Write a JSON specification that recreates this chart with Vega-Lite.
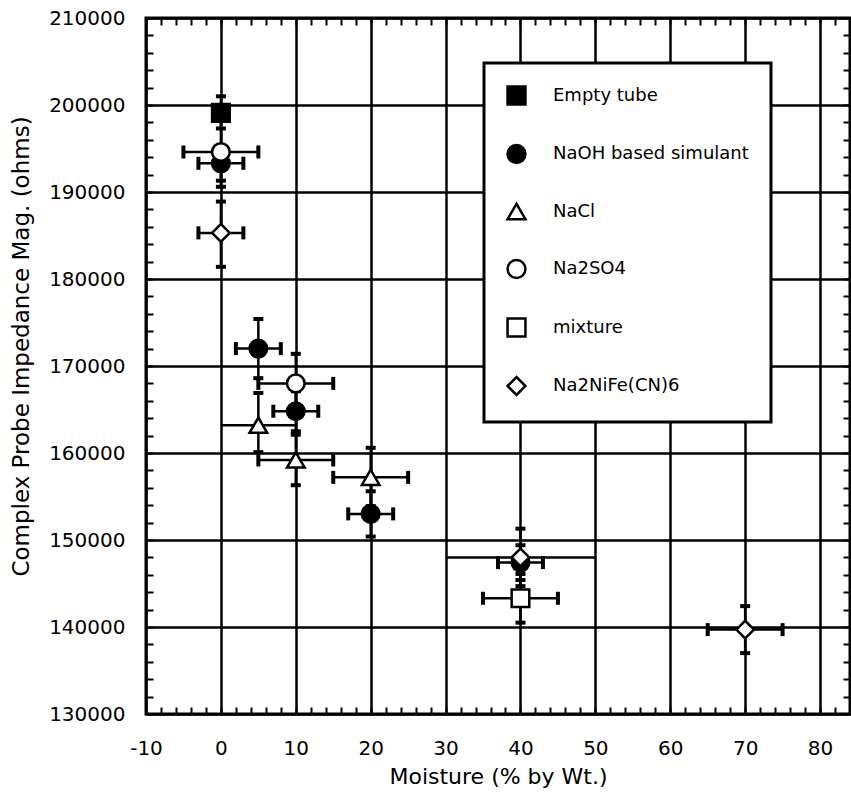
{
  "$schema": "https://vega.github.io/schema/vega-lite/v6.json",
  "width": 704,
  "height": 696,
  "autosize": {"type": "none"},
  "padding": {"left": 146, "top": 18, "right": 1, "bottom": 88},
  "background": "white",
  "config": {
    "view": {"stroke": "black", "strokeWidth": 3},
    "font": "DejaVu Sans",
    "legend": {"strokeWidth": 3}
  },
  "datasets": {
    "pts": [
      {"series": "Empty tube", "x": 0, "y": 199100, "ylo": 197300, "yhi": 201000, "xlo": null, "xhi": null},
      {"series": "NaOH based simulant", "x": 0, "y": 193300, "ylo": 191300, "yhi": 195300, "xlo": -3, "xhi": 3},
      {"series": "Na2SO4", "x": 0, "y": 194600, "ylo": 190600, "yhi": 198600, "xlo": -5, "xhi": 5},
      {"series": "Na2NiFe(CN)6", "x": 0, "y": 185300, "ylo": 181400, "yhi": 188900, "xlo": -3, "xhi": 3},
      {"series": "NaOH based simulant", "x": 5, "y": 172000, "ylo": 168600, "yhi": 175400, "xlo": 2, "xhi": 8},
      {"series": "Na2SO4", "x": 10, "y": 168000, "ylo": 164600, "yhi": 171400, "xlo": 5, "xhi": 15},
      {"series": "NaOH based simulant", "x": 10, "y": 164800, "ylo": 162500, "yhi": 167100, "xlo": 7, "xhi": 13},
      {"series": "NaCl", "x": 5, "y": 163200, "ylo": 160100, "yhi": 166900, "xlo": null, "xhi": null},
      {"series": "NaCl", "x": 10, "y": 159200, "ylo": 156300, "yhi": 162100, "xlo": 5, "xhi": 15},
      {"series": "NaCl", "x": 20, "y": 157200, "ylo": 153900, "yhi": 160600, "xlo": 15, "xhi": 25},
      {"series": "NaOH based simulant", "x": 20, "y": 153000, "ylo": 150400, "yhi": 155600, "xlo": 17, "xhi": 23},
      {"series": "NaOH based simulant", "x": 40, "y": 147400, "ylo": 145400, "yhi": 149400, "xlo": 37, "xhi": 43},
      {"series": "Na2NiFe(CN)6", "x": 40, "y": 148000, "ylo": 144700, "yhi": 151300, "xlo": null, "xhi": null},
      {"series": "mixture", "x": 40, "y": 143300, "ylo": 140500, "yhi": 146100, "xlo": 35, "xhi": 45},
      {"series": "Na2NiFe(CN)6", "x": 70, "y": 139700, "ylo": 137000, "yhi": 142400, "xlo": 65, "xhi": 75}
    ],
    "plainbars": [
      {"y": 163200, "xlo": 0, "xhi": 10},
      {"y": 148000, "xlo": 30, "xhi": 50}
    ]
  },
  "resolve": {"axis": {"x": "independent", "y": "independent"}},
  "layer": [
    {
      "data": {"name": "pts"},
      "mark": {"type": "rule", "color": "black", "strokeWidth": 2.5},
      "encoding": {
        "x": {"field": "x", "type": "quantitative",
          "scale": {"domain": [-10, 84], "nice": false, "zero": false},
          "axis": {"orient": "top", "labels": false, "title": null, "grid": false, "domain": false,
            "values": [-10,-8,-6,-4,-2,0,2,4,6,8,10,12,14,16,18,20,22,24,26,28,30,32,34,36,38,40,42,44,46,48,50,52,54,56,58,60,62,64,66,68,70,72,74,76,78,80,82,84],
            "tickSize": -7, "tickWidth": 2, "tickColor": "black"}},
        "y": {"field": "ylo", "type": "quantitative",
          "scale": {"domain": [130000, 210000], "nice": false, "zero": false},
          "axis": {"orient": "right", "labels": false, "title": null, "grid": false, "domain": false,
            "values": [130000,132000,134000,136000,138000,140000,142000,144000,146000,148000,150000,152000,154000,156000,158000,160000,162000,164000,166000,168000,170000,172000,174000,176000,178000,180000,182000,184000,186000,188000,190000,192000,194000,196000,198000,200000,202000,204000,206000,208000,210000],
            "tickSize": -7, "tickWidth": 2, "tickColor": "black"}},
        "y2": {"field": "yhi"}
      }
    },
    {
      "data": {"name": "pts"},
      "mark": {"type": "rule", "color": "black", "strokeWidth": 2.5},
      "encoding": {
        "x": {"field": "xlo", "type": "quantitative", "axis": null},
        "x2": {"field": "xhi"},
        "y": {"field": "y", "type": "quantitative", "axis": null}
      }
    },
    {
      "data": {"name": "plainbars"},
      "mark": {"type": "rule", "color": "black", "strokeWidth": 2.5},
      "encoding": {
        "x": {"field": "xlo", "type": "quantitative", "axis": null},
        "x2": {"field": "xhi"},
        "y": {"field": "y", "type": "quantitative", "axis": null}
      }
    },
    {
      "data": {"name": "pts"},
      "mark": {"type": "tick", "orient": "horizontal", "color": "black", "size": 10, "thickness": 4, "opacity": 1},
      "encoding": {
        "x": {"field": "x", "type": "quantitative", "axis": null},
        "y": {"field": "ylo", "type": "quantitative", "axis": null}
      }
    },
    {
      "data": {"name": "pts"},
      "mark": {"type": "tick", "orient": "horizontal", "color": "black", "size": 10, "thickness": 4, "opacity": 1},
      "encoding": {
        "x": {"field": "x", "type": "quantitative", "axis": null},
        "y": {"field": "yhi", "type": "quantitative", "axis": null}
      }
    },
    {
      "data": {"name": "pts"},
      "mark": {"type": "tick", "orient": "vertical", "color": "black", "size": 13, "thickness": 4, "opacity": 1},
      "encoding": {
        "x": {"field": "xlo", "type": "quantitative", "axis": null},
        "y": {"field": "y", "type": "quantitative", "axis": null}
      }
    },
    {
      "data": {"name": "pts"},
      "mark": {"type": "tick", "orient": "vertical", "color": "black", "size": 13, "thickness": 4, "opacity": 1},
      "encoding": {
        "x": {"field": "xhi", "type": "quantitative", "axis": null},
        "y": {"field": "y", "type": "quantitative", "axis": null}
      }
    },
    {
      "data": {"name": "pts"},
      "mark": {"type": "point", "filled": true, "strokeWidth": 2.5, "size": 310, "opacity": 1},
      "encoding": {
        "x": {"field": "x", "type": "quantitative",
          "axis": {"orient": "bottom", "title": "Moisture (% by Wt.)",
            "values": [-10,-8,-6,-4,-2,0,2,4,6,8,10,12,14,16,18,20,22,24,26,28,30,32,34,36,38,40,42,44,46,48,50,52,54,56,58,60,62,64,66,68,70,72,74,76,78,80,82,84],
            "labelExpr": "datum.value % 10 === 0 ? '' + datum.value : ''",
            "grid": true, "gridColor": "black", "gridWidth": 2.5,
            "gridOpacity": {"condition": {"test": "datum.value % 10 === 0", "value": 1}, "value": 0},
            "domain": false,
            "tickSize": -7, "tickWidth": 2, "tickColor": "black",
            "labelFont": "DejaVu Sans", "labelFontSize": 20, "labelColor": "black", "labelPadding": 31,
            "labelBaseline": "top", "labelFlush": false,
            "titleFont": "DejaVu Sans", "titleFontSize": 22, "titleFontWeight": "normal", "titleColor": "black", "titlePadding": 8}},
        "y": {"field": "y", "type": "quantitative",
          "axis": {"orient": "left", "title": "Complex Probe Impedance Mag. (ohms)",
            "values": [130000,132000,134000,136000,138000,140000,142000,144000,146000,148000,150000,152000,154000,156000,158000,160000,162000,164000,166000,168000,170000,172000,174000,176000,178000,180000,182000,184000,186000,188000,190000,192000,194000,196000,198000,200000,202000,204000,206000,208000,210000],
            "labelExpr": "datum.value % 10000 === 0 ? '' + datum.value : ''",
            "grid": true, "gridColor": "black", "gridWidth": 2.5,
            "gridOpacity": {"condition": {"test": "datum.value % 10000 === 0", "value": 1}, "value": 0},
            "domain": false,
            "tickSize": -7, "tickWidth": 2, "tickColor": "black",
            "labelFont": "DejaVu Sans", "labelFontSize": 20, "labelColor": "black", "labelPadding": 28, "labelFlush": false,
            "titleFont": "DejaVu Sans", "titleFontSize": 23, "titleFontWeight": "normal", "titleColor": "black",
            "titleX": -118, "titleY": 328, "titleBaseline": "alphabetic", "titleAlign": "center", "titleAngle": 270}},
        "shape": {"field": "series", "type": "nominal",
          "scale": {"domain": ["Empty tube", "NaOH based simulant", "NaCl", "Na2SO4", "mixture", "Na2NiFe(CN)6"],
            "range": ["square", "circle", "triangle-up", "circle", "square", "diamond"]},
          "legend": {"title": null, "orient": "none", "legendX": 338, "legendY": 45,
            "fillColor": "white", "strokeColor": "black", "cornerRadius": 0, "padding": 22,
            "symbolSize": 320, "symbolStrokeWidth": 2.5, "symbolOpacity": 1,
            "labelFont": "DejaVu Sans", "labelFontSize": 18, "labelColor": "black", "labelOffset": 26,
            "rowPadding": 29.5, "labelLimit": 400}},
        "fill": {"field": "series", "type": "nominal",
          "scale": {"domain": ["Empty tube", "NaOH based simulant", "NaCl", "Na2SO4", "mixture", "Na2NiFe(CN)6"],
            "range": ["black", "black", "white", "white", "white", "white"]},
          "legend": {"title": null, "orient": "none", "legendX": 338, "legendY": 45,
            "fillColor": "white", "strokeColor": "black", "cornerRadius": 0, "padding": 22,
            "symbolSize": 320, "symbolStrokeWidth": 2.5, "symbolOpacity": 1,
            "labelFont": "DejaVu Sans", "labelFontSize": 18, "labelColor": "black", "labelOffset": 26,
            "rowPadding": 29.5, "labelLimit": 400}},
        "stroke": {"field": "series", "type": "nominal",
          "scale": {"domain": ["Empty tube", "NaOH based simulant", "NaCl", "Na2SO4", "mixture", "Na2NiFe(CN)6"],
            "range": ["black", "black", "black", "black", "black", "black"]},
          "legend": {"title": null, "orient": "none", "legendX": 338, "legendY": 45,
            "fillColor": "white", "strokeColor": "black", "cornerRadius": 0, "padding": 22,
            "symbolSize": 320, "symbolStrokeWidth": 2.5, "symbolOpacity": 1,
            "labelFont": "DejaVu Sans", "labelFontSize": 18, "labelColor": "black", "labelOffset": 26,
            "rowPadding": 29.5, "labelLimit": 400}}
      }
    }
  ]
}
